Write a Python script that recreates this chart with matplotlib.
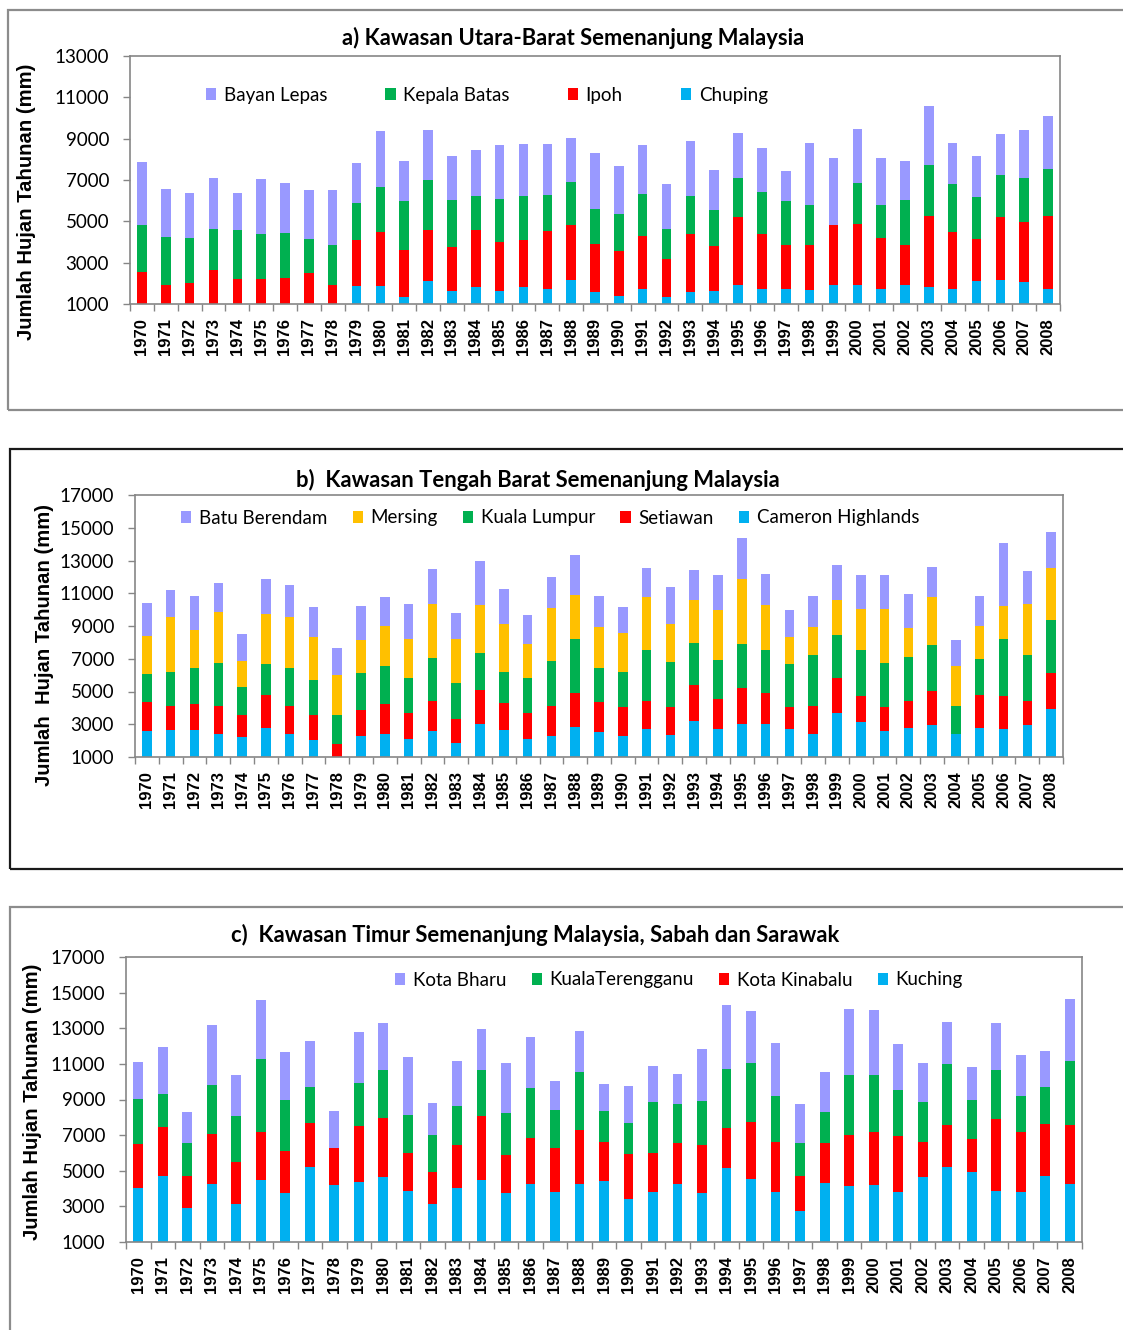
import matplotlib
matplotlib.use("Agg")
import matplotlib.pyplot as plt
from matplotlib.patches import Rectangle, Patch
import numpy as np

# ---------------- data ----------------
years = list(range(1970, 2009))
year_labels = [str(y) for y in years]

# Panel a) Kawasan Utara-Barat (bottom -> top)
chuping = [0, 0, 0, 0, 0, 0, 0, 0, 0, 1850, 1850, 1350, 2120, 1640, 1820, 1640, 1820, 1720, 2170, 1590,
           1400, 1720, 1350, 1590, 1640, 1900, 1720, 1720, 1670, 1900, 1930, 1750, 1900, 1820, 1720, 2120,
           2170, 2080, 1750]
ipoh = [2570, 1900, 2030, 2650, 2200, 2200, 2250, 2480, 1900, 2250, 2620, 2260, 2470, 2100, 2780, 2370,
        2290, 2820, 2650, 2330, 2170, 2570, 1810, 2790, 2150, 3290, 2660, 2120, 2170, 2920, 2950, 2440,
        1970, 3450, 2740, 2020, 3050, 2890, 3510]
kepala_batas = [2250, 2330, 2170, 1970, 2390, 2180, 2200, 1650, 1970, 1800, 2170, 2370, 2420, 2290, 1640,
                2050, 2120, 1720, 2070, 1670, 1800, 2050, 1460, 1850, 1750, 1930, 2020, 2150, 1940, 0,
                1960, 1620, 2170, 2440, 2370, 2040, 2020, 2150, 2250]
bayan_lepas = [3050, 2340, 2150, 2490, 1800, 2650, 2390, 2410, 2660, 1930, 2740, 1940, 2410, 2150, 2200,
               2610, 2500, 2470, 2120, 2700, 2290, 2340, 2180, 2680, 1960, 2170, 2150, 1440, 3000, 3240,
               2610, 2250, 1890, 2870, 1970, 1960, 1990, 2290, 2570]

# Panel b) Kawasan Tengah Barat (bottom -> top)
cameron_highlands = [2570, 2630, 2670, 2430, 2200, 2790, 2390, 2060, 0, 2280, 2430, 2100, 2570, 1880, 3020,
                     2630, 2120, 2280, 2810, 2530, 2280, 2690, 2350, 3200, 2690, 3020, 3020, 2690, 2390,
                     3690, 3140, 2570, 2790, 2960, 2410, 2790, 2730, 2960, 3910]
setiawan = [1770, 1470, 1550, 1670, 1390, 1980, 1710, 1530, 1770, 1590, 1790, 1610, 1880, 1430, 2060, 1650,
            1590, 1830, 2100, 1840, 1770, 1750, 1710, 2180, 1830, 2180, 1880, 1350, 1710, 2120, 1590, 1470,
            1650, 2060, 0, 1980, 2000, 1450, 2240]
kuala_lumpur = [1750, 2100, 2200, 2610, 1690, 1900, 2320, 2100, 1810, 2260, 2320, 2100, 2610, 2180, 2260,
                1940, 2100, 2730, 3300, 2080, 2160, 3080, 2730, 2590, 2430, 2710, 2630, 2650, 3140, 2670,
                2790, 2690, 2670, 2790, 1690, 2220, 3460, 2830, 3240]
mersing = [2320, 3320, 2360, 3140, 1610, 3080, 3100, 2630, 2450, 2000, 2450, 2380, 3260, 2710, 2960, 2920,
           2120, 3260, 2670, 2470, 2390, 3240, 2340, 2630, 3020, 3950, 2730, 1630, 1710, 2120, 2510, 3300,
           1770, 2960, 2470, 2000, 2060, 3080, 3140]
batu_berendam = [1980, 1690, 2040, 1750, 1650, 2100, 1980, 1810, 1650, 2100, 1770, 2160, 2140, 1590, 2650,
                 2100, 1750, 1920, 2450, 1920, 1550, 1770, 2260, 1810, 2120, 2490, 1940, 1650, 1880, 2100,
                 2100, 2100, 2060, 1830, 1570, 1830, 3810, 2040, 2200]

# Panel c) Kawasan Timur, Sabah dan Sarawak (bottom -> top)
kuching = [4020, 4690, 2910, 4280, 3120, 4490, 3740, 5200, 4210, 4390, 4640, 3850, 3120, 4020, 4490, 3740,
           4280, 3810, 4280, 4430, 3440, 3810, 4280, 3740, 5160, 4540, 3810, 2760, 4340, 4130, 4220, 3810,
           4640, 5220, 4920, 3850, 3810, 4690, 4280]
kota_kinabalu = [2460, 2770, 1780, 2770, 2360, 2660, 2360, 2470, 2060, 3130, 3300, 2160, 1800, 2400, 3560,
                 2120, 2570, 2460, 2980, 2160, 2510, 2190, 2250, 2680, 2250, 3190, 2810, 1950, 2190, 2870,
                 2980, 3130, 1990, 2340, 1870, 4030, 3340, 2920, 3280]
kuala_terengganu = [2550, 1870, 1840, 2760, 2620, 4140, 2890, 2040, 0, 2400, 2720, 2100, 2080, 2210, 2610,
                    2400, 2770, 2140, 3280, 1760, 1720, 2870, 2190, 2510, 3300, 3340, 2570, 1820, 1760,
                    3350, 3150, 2620, 2250, 3410, 2190, 2770, 2040, 2100, 3620]
kota_bharu = [2100, 2620, 1760, 3350, 2290, 3300, 2660, 2570, 2100, 2850, 2620, 3280, 1820, 2510, 2310,
              2810, 2870, 1630, 2320, 1520, 2060, 1990, 1720, 2920, 3620, 2890, 2980, 2190, 2250, 3710,
              3660, 2550, 2190, 2360, 1870, 2620, 2310, 2040, 3450]

C_PURPLE = "#9999FF"
C_GREEN = "#00B050"
C_RED = "#FF0000"
C_BLUE = "#00B0F0"
C_YELLOW = "#FFC000"

# ---------------- figure ----------------
W, H = 1123, 1330
fig = plt.figure(figsize=(W / 100, H / 100), dpi=100)

CAL = ["Lato", "DejaVu Sans"]
ARB = ["Liberation Sans", "DejaVu Sans"]
SPINE = "#868686"


def fx(px):
    return px / W


def fy(py):
    return 1 - py / H


def border(x0, y0, x1, y1, color):
    fig.add_artist(Rectangle((fx(x0), fy(y1)), fx(x1 - x0), (y1 - y0) / H,
                             transform=fig.transFigure, fill=False,
                             edgecolor=color, linewidth=1.6, clip_on=False))


def panel(box, series, names, colors, ymax, title, title_xy, leg_xy, leg_colsp,
          ylabel, ylabel_xy):
    left, top, right, bottom = box
    ax = fig.add_axes([fx(left), fy(bottom), fx(right - left), (bottom - top) / H])
    x = np.arange(len(years))
    base = np.zeros(len(years))
    for vals, col in zip(series, colors):
        v = np.array(vals, dtype=float)
        ax.bar(x, v, bottom=base, width=0.4, color=col, linewidth=0)
        base = base + v
    ax.set_xlim(-0.5, len(years) - 0.5)
    ax.set_ylim(1000, ymax)
    ax.set_yticks(np.arange(1000, ymax + 1, 2000))
    ax.set_yticklabels([str(v) for v in range(1000, ymax + 1, 2000)],
                       fontfamily=CAL, fontsize=13.5)
    ax.tick_params(axis="y", length=5, width=1, color=SPINE, pad=10)
    ax.set_xticks(x)
    ax.set_xticklabels(year_labels, rotation=90, fontfamily=ARB,
                       fontweight="bold", fontsize=12)
    ax.tick_params(axis="x", which="major", length=0, pad=10)
    ax.set_xticks(np.arange(-0.5, len(years)), minor=True)
    ax.tick_params(axis="x", which="minor", length=5, width=1, color=SPINE)
    for s in ax.spines.values():
        s.set_color(SPINE)
        s.set_linewidth(1.2)

    handles = [Patch(facecolor=c, edgecolor="none", label=n)
               for n, c in zip(names[::-1], colors[::-1])]
    fig.legend(handles=handles, loc="center left",
               bbox_to_anchor=(fx(leg_xy[0]), fy(leg_xy[1])),
               bbox_transform=fig.transFigure, ncol=len(handles), frameon=False,
               prop={"family": CAL, "size": 13.5}, handlelength=0.55,
               handleheight=0.55, handletextpad=0.4, columnspacing=leg_colsp,
               borderpad=0, borderaxespad=0)

    fig.text(fx(title_xy[0]), fy(title_xy[1]), title, ha="center", va="center",
             fontfamily=CAL, fontweight="bold", fontsize=15.8)
    fig.text(fx(ylabel_xy[0]), fy(ylabel_xy[1]), ylabel, rotation=90, ha="center",
             va="center", fontfamily=ARB, fontweight="bold", fontsize=14.6)
    return ax


# panel borders
border(8, 10, 1135, 410, "#8C8C8C")
border(10, 449, 1135, 869, "#1A1A1A")
border(10, 907, 1135, 1345, "#8C8C8C")

panel((130, 56, 1060, 304),
      [chuping, ipoh, kepala_batas, bayan_lepas],
      ["Chuping", "Ipoh", "Kepala Batas", "Bayan Lepas"],
      [C_BLUE, C_RED, C_GREEN, C_PURPLE],
      13000, "a) Kawasan Utara-Barat Semenanjung Malaysia", (573, 38),
      (206, 95), 3.1, "Jumlah Hujan Tahunan (mm)", (27, 202))

panel((135, 495, 1063, 757),
      [cameron_highlands, setiawan, kuala_lumpur, mersing, batu_berendam],
      ["Cameron Highlands", "Setiawan", "Kuala Lumpur", "Mersing", "Batu Berendam"],
      [C_BLUE, C_RED, C_GREEN, C_YELLOW, C_PURPLE],
      17000, "b)  Kawasan Tengah Barat Semenanjung Malaysia", (538, 480),
      (181, 518), 1.35, "Jumlah  Hujan Tahunan (mm)", (45, 645))

panel((126, 957, 1082, 1242),
      [kuching, kota_kinabalu, kuala_terengganu, kota_bharu],
      ["Kuching", "Kota Kinabalu", "KualaTerengganu", "Kota Bharu"],
      [C_BLUE, C_RED, C_GREEN, C_PURPLE],
      17000, "c)  Kawasan Timur Semenanjung Malaysia, Sabah dan Sarawak", (535, 935),
      (395, 980), 1.35, "Jumlah Hujan Tahunan (mm)", (33, 1102))

fig.savefig("out.png", dpi=100)
